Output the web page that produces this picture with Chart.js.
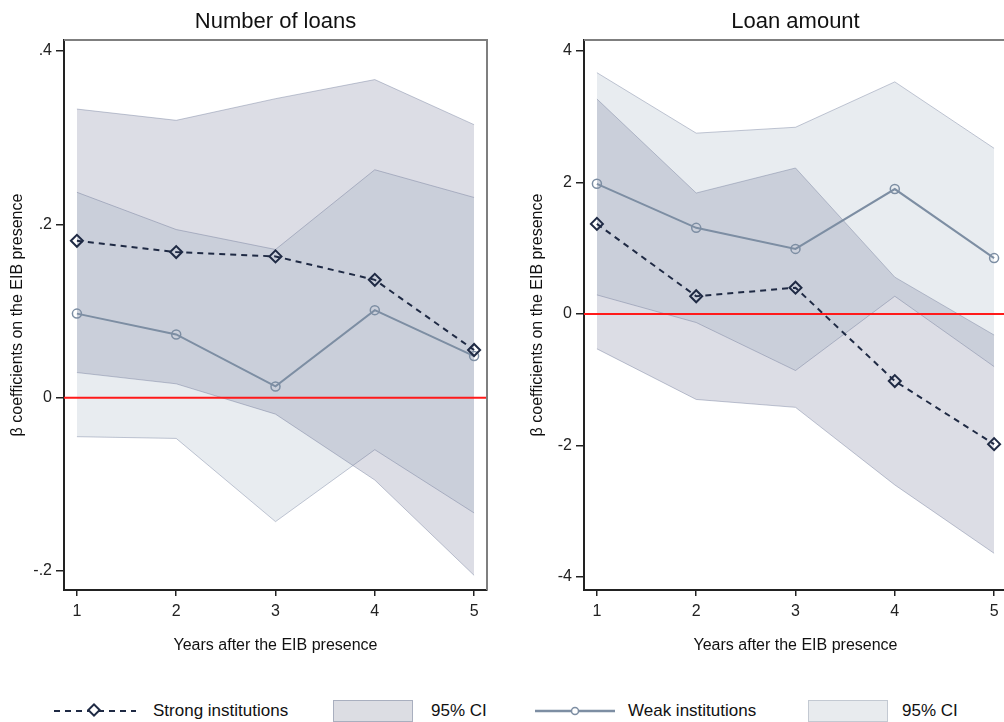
<!DOCTYPE html>
<html>
<head>
<meta charset="utf-8">
<script src="https://cdn.jsdelivr.net/npm/chart.js@4.4.1/dist/chart.umd.min.js"></script>
<style>
  html, body { margin: 0; padding: 0; background: #fff; width: 1004px; height: 722px; overflow: hidden; }
  body { position: relative; font-family: "Liberation Sans", Arial, sans-serif; }
  .panel { position: absolute; top: 0; width: 500px; height: 665px; }
  .legend { position: absolute; top: 699px; height: 24px; font-size: 17px; color: #111; }
  .legend .item { position: absolute; top: 0; height: 24px; line-height: 24px; white-space: nowrap; }
  .legend .box { position: absolute; top: 1px; width: 78px; height: 20px; border: 1px solid #a9afbf; }
</style>
</head>
<body>
<div class="panel" style="left:0"><canvas id="loansChart"></canvas></div>
<div class="panel" style="left:520px"><canvas id="amountChart"></canvas></div>

<div class="legend" style="left:0; width:1004px">
  <svg class="item" style="left:52px" width="86" height="24">
    <line x1="2" y1="12" x2="84" y2="12" stroke="#1f2a44" stroke-width="2" stroke-dasharray="6,5"/>
    <rect x="38" y="7" width="8" height="8" transform="rotate(45 42 11)" fill="#fff" stroke="#1f2a44" stroke-width="2"/>
  </svg>
  <span class="item" style="left:153px">Strong institutions</span>
  <div class="box" style="left:333px; background: rgb(220,221,227)"></div>
  <span class="item" style="left:431px">95% CI</span>
  <svg class="item" style="left:533px" width="84" height="24">
    <line x1="2" y1="12" x2="82" y2="12" stroke="#7d8ea3" stroke-width="2.5"/>
    <circle cx="42" cy="12" r="3.5" fill="#fff" stroke="#7d8ea3" stroke-width="1.5"/>
  </svg>
  <span class="item" style="left:628px">Weak institutions</span>
  <div class="box" style="left:808px; background: rgb(232,235,238); border-color:#c3c9d2"></div>
  <span class="item" style="left:902px">95% CI</span>
</div>

<script>
// shared x axis
const years = [1, 2, 3, 4, 5];

// Number of loans
const loansTicks = [-0.2, 0, 0.2, 0.4];
const loansStrong = [0.181, 0.168, 0.163, 0.136, 0.055];
const loansStrongUpper = [0.333, 0.320, 0.345, 0.367, 0.315];
const loansStrongLower = [0.029, 0.016, -0.019, -0.095, -0.205];
const loansWeak = [0.097, 0.073, 0.013, 0.101, 0.048];
const loansWeakUpper = [0.237, 0.194, 0.171, 0.263, 0.231];
const loansWeakLower = [-0.045, -0.047, -0.143, -0.060, -0.133];

// Loan amount
const amountTicks = [-4, -2, 0, 2, 4];
const amountStrong = [1.37, 0.27, 0.40, -1.02, -1.98];
const amountStrongUpper = [3.27, 1.84, 2.22, 0.56, -0.32];
const amountStrongLower = [-0.53, -1.30, -1.42, -2.60, -3.64];
const amountWeak = [1.98, 1.31, 0.99, 1.90, 0.85];
const amountWeakUpper = [3.67, 2.75, 2.84, 3.53, 2.52];
const amountWeakLower = [0.29, -0.13, -0.86, 0.27, -0.80];

const STRONG_LINE = "#1f2a44";
const WEAK_LINE = "#7d8ea3";
const STRONG_FILL = "rgba(95, 100, 135, 0.22)";
const WEAK_FILL = "rgba(130, 150, 170, 0.18)";
const BAND_EDGE = "rgba(120, 130, 160, 0.45)";
const FONT = "'Liberation Sans', Arial, sans-serif";

const toPoints = (vals) => vals.map((y, i) => ({ x: years[i], y }));

// red line at zero plus the grey top/right frame of the plot region
const framePlugin = {
  id: "frame",
  afterDatasetsDraw(chart) {
    const { ctx, chartArea, scales } = chart;
    const y0 = scales.y.getPixelForValue(0);
    ctx.save();
    ctx.strokeStyle = "#ff1a1a";
    ctx.lineWidth = 2;
    ctx.beginPath();
    ctx.moveTo(chartArea.left, y0);
    ctx.lineTo(chartArea.right, y0);
    ctx.stroke();
    ctx.restore();
  },
  afterDraw(chart) {
    const { ctx, chartArea } = chart;
    ctx.save();
    ctx.strokeStyle = "#7f7f7f";
    ctx.lineWidth = 2;
    ctx.beginPath();
    ctx.moveTo(chartArea.left, chartArea.top);
    ctx.lineTo(chartArea.right, chartArea.top);
    ctx.lineTo(chartArea.right, chartArea.bottom);
    ctx.stroke();
    ctx.restore();
  }
};

function makePanel(canvasId, title, series, yTicks, yMin, yMax, fmt) {
  const band = (vals, fill, color) => ({
    data: toPoints(vals),
    borderColor: BAND_EDGE,
    borderWidth: 1,
    backgroundColor: color,
    pointRadius: 0,
    tension: 0,
    fill,
    order: 5,
  });

  new Chart(document.getElementById(canvasId), {
    type: "line",
    data: {
      datasets: [
        band(series.strongUpper, "+1", STRONG_FILL),
        band(series.strongLower, false, STRONG_FILL),
        band(series.weakUpper, "+1", WEAK_FILL),
        band(series.weakLower, false, WEAK_FILL),
        {
          label: "Weak institutions",
          data: toPoints(series.weak),
          borderColor: WEAK_LINE,
          borderWidth: 2,
          pointStyle: "circle",
          pointRadius: 4.5,
          pointBorderWidth: 1.5,
          pointBorderColor: WEAK_LINE,
          pointBackgroundColor: "rgba(0,0,0,0)",
          fill: false,
          order: 2,
        },
        {
          label: "Strong institutions",
          data: toPoints(series.strong),
          borderColor: STRONG_LINE,
          borderWidth: 2,
          borderDash: [6, 5],
          pointStyle: "rectRot",
          pointRadius: 6,
          pointBorderWidth: 2,
          pointBorderColor: STRONG_LINE,
          pointBackgroundColor: "rgba(0,0,0,0)",
          fill: false,
          order: 1,
        },
      ],
    },
    options: {
      responsive: false,
      animation: false,
      devicePixelRatio: 1,
      layout: { padding: { left: 0, right: 13, top: 0, bottom: 0 } },
      plugins: {
        legend: { display: false },
        tooltip: { enabled: false },
        title: {
          display: true,
          text: title,
          fullSize: false,
          color: "#111",
          font: { family: FONT, size: 22, weight: "normal" },
          padding: { top: 9, bottom: 4.6 },
        },
      },
      scales: {
        x: {
          type: "linear",
          min: 0.87,
          max: 5.13,
          afterBuildTicks: (scale) => { scale.ticks = years.map((v) => ({ value: v })); },
          afterFit: (scale) => { scale.height = 75; },
          grid: { drawOnChartArea: false, drawTicks: true, tickLength: 6, color: "#222", lineWidth: 1.5 },
          border: { display: true, color: "#222", width: 2 },
          ticks: { color: "#222", font: { family: FONT, size: 16 }, padding: 6, maxRotation: 0 },
          title: {
            display: true,
            text: "Years after the EIB presence",
            color: "#111",
            font: { family: FONT, size: 16 },
            padding: { top: 0, bottom: 10 },
          },
        },
        y: {
          type: "linear",
          min: yMin,
          max: yMax,
          afterBuildTicks: (scale) => { scale.ticks = yTicks.map((v) => ({ value: v })); },
          afterFit: (scale) => { scale.width = 64; },
          grid: { drawOnChartArea: false, drawTicks: true, tickLength: 8, color: "#222", lineWidth: 1.5 },
          border: { display: true, color: "#222", width: 2 },
          ticks: { color: "#222", font: { family: FONT, size: 16 }, padding: 4, callback: fmt },
          title: {
            display: true,
            text: "β coefficients on the EIB presence",
            color: "#111",
            font: { family: FONT, size: 16 },
            padding: { top: 8, bottom: 0 },
          },
        },
      },
    },
    plugins: [framePlugin],
  });
}

const dotFmt = (v) => (v === 0 ? "0" : (v < 0 ? "-" : "") + String(Math.abs(v)).replace(/^0/, ""));

// canvas sizes
document.getElementById("loansChart").width = 500;
document.getElementById("loansChart").height = 665;
document.getElementById("amountChart").width = 500;
document.getElementById("amountChart").height = 665;

makePanel("loansChart", "Number of loans", {
  strong: loansStrong, strongUpper: loansStrongUpper, strongLower: loansStrongLower,
  weak: loansWeak, weakUpper: loansWeakUpper, weakLower: loansWeakLower,
}, loansTicks, -0.2219, 0.4127, dotFmt);

makePanel("amountChart", "Loan amount", {
  strong: amountStrong, strongUpper: amountStrongUpper, strongLower: amountStrongLower,
  weak: amountWeak, weakUpper: amountWeakUpper, weakLower: amountWeakLower,
}, amountTicks, -4.198, 4.167, (v) => String(v));
</script>
</body>
</html>
